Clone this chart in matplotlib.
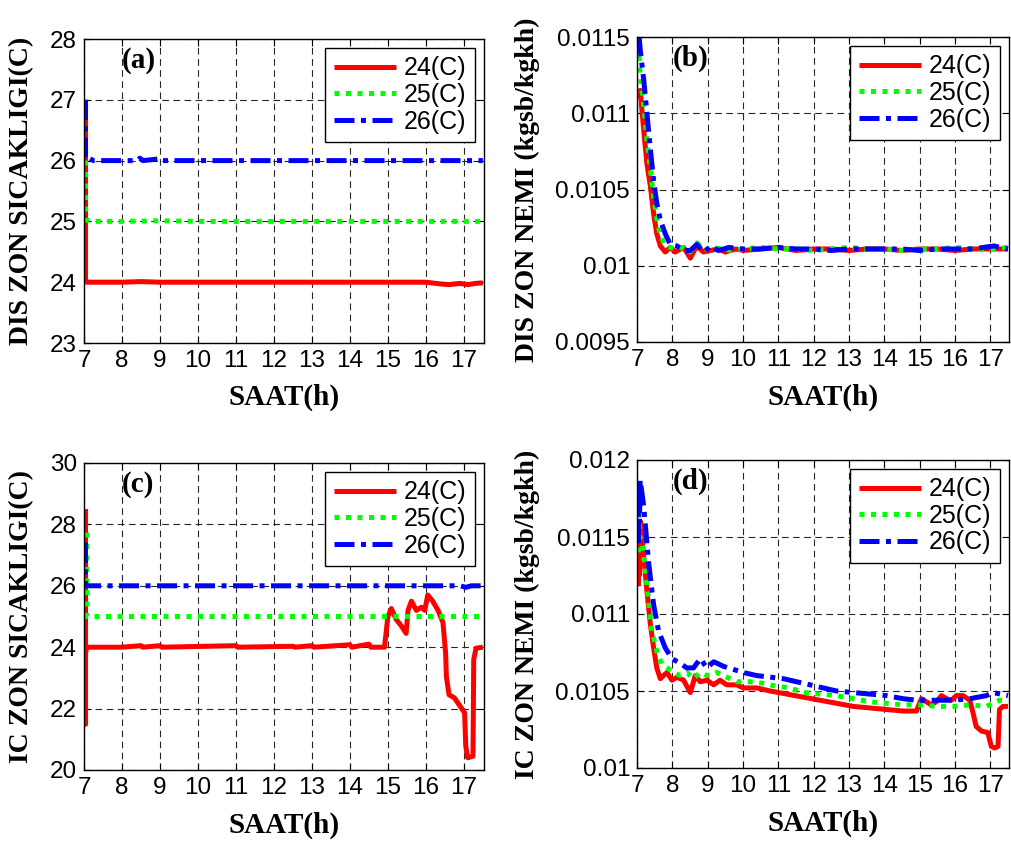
import matplotlib
matplotlib.use("Agg")
import matplotlib.pyplot as plt

# ---------------- data ----------------
labels = ["24(C)", "25(C)", "26(C)"]
panel_tags = ["(a)", "(b)", "(c)", "(d)"]
xticks = [7, 8, 9, 10, 11, 12, 13, 14, 15, 16, 17]
xlabel = "SAAT(h)"
ylabels = ["DIS ZON SICAKLIGI(C)", "DIS ZON NEMI (kgsb/kgkh)",
           "IC ZON SICAKLIGI(C)", "IC ZON NEMI (kgsb/kgkh)"]

# (a) outdoor-zone temperature
ta_24 = [7.04, 7.04, 7.07, 8.0, 8.5, 9.0, 10.0, 11.0, 12.0, 13.0, 14.0, 15.0, 16.0, 16.4, 16.6, 16.9, 17.1, 17.3, 17.5]
va_24 = [27.0, 24.05, 24.0, 24.0, 24.01, 24.0, 24.0, 24.0, 24.0, 24.0, 24.0, 24.0, 24.0, 23.97, 23.96, 23.98, 23.96, 23.98, 23.99]
ta_25 = [7.04, 7.04, 7.08, 7.2, 8.0, 9.0, 10.0, 11.0, 12.0, 13.0, 14.0, 15.0, 16.0, 17.0, 17.5]
va_25 = [26.0, 25.05, 25.02, 25.0, 25.0, 25.01, 25.0, 25.0, 25.0, 25.0, 25.0, 25.0, 25.0, 25.0, 25.0]
ta_26 = [7.04, 7.04, 7.1, 7.16, 7.25, 8.4, 8.47, 8.55, 9.0, 9.05, 10.0, 11.0, 12.0, 13.0, 14.0, 15.0, 16.0, 17.0, 17.5]
va_26 = [27.0, 26.05, 26.0, 26.03, 26.0, 26.0, 26.04, 26.0, 26.03, 26.0, 26.0, 26.0, 26.0, 26.0, 26.0, 26.0, 26.0, 26.0, 26.0]

# (b) outdoor-zone humidity
tb_24 = [7.04, 7.06, 7.09, 7.19, 7.28, 7.38, 7.47, 7.56, 7.66, 7.80, 7.94, 8.08, 8.32, 8.51, 8.69, 8.88, 9.07,
         9.3, 9.5, 9.8, 10.0, 10.5, 11.0, 11.5, 12.0, 12.5, 13.0, 13.5, 14.0, 14.5, 15.0, 15.5, 16.0, 16.5, 17.0, 17.5]
vb_24 = [0.01110, 0.01111, 0.01115, 0.01089, 0.01067, 0.01052, 0.01034, 0.01021, 0.01013, 0.01009, 0.01012, 0.01009,
         0.01012, 0.01005, 0.01013, 0.01009, 0.01010,
         0.01011, 0.01009, 0.01011, 0.01010, 0.01011, 0.01012, 0.01010, 0.01011, 0.01011, 0.01010, 0.01011,
         0.01011, 0.01010, 0.01011, 0.01011, 0.01010, 0.01011, 0.01011, 0.01011]
tb_25 = [7.04, 7.09, 7.19, 7.28, 7.38, 7.47, 7.56, 7.66, 7.80, 7.94, 8.1, 8.3, 8.5, 8.7, 8.9, 9.1,
         9.4, 9.7, 10.0, 10.5, 11.0, 11.5, 12.0, 12.5, 13.0, 13.5, 14.0, 14.5, 15.0, 15.5, 16.0, 16.5, 17.0, 17.5]
vb_25 = [0.01145, 0.01125, 0.01105, 0.01083, 0.01063, 0.01045, 0.01031, 0.01020, 0.01013, 0.01012, 0.01011,
         0.01012, 0.01009, 0.01015, 0.01010, 0.01012,
         0.01011, 0.01010, 0.01011, 0.01012, 0.01011, 0.01011, 0.01010, 0.01011, 0.01012, 0.01011, 0.01011,
         0.01010, 0.01011, 0.01011, 0.01012, 0.01011, 0.01011, 0.01012]
tb_26 = [7.04, 7.06, 7.09, 7.19, 7.28, 7.38, 7.47, 7.56, 7.66, 7.80, 7.94, 8.13, 8.32, 8.51, 8.69, 8.9, 9.1,
         9.3, 9.6, 10.0, 10.5, 11.0, 11.5, 12.0, 12.5, 13.0, 13.5, 14.0, 14.5, 15.0, 15.5, 16.0, 16.5, 17.1, 17.5]
vb_26 = [0.01150, 0.01150, 0.01142, 0.01122, 0.01100, 0.01076, 0.01056, 0.01041, 0.01030, 0.01021, 0.01014,
         0.01013, 0.01010, 0.01010, 0.01014, 0.01009, 0.01013,
         0.01010, 0.01012, 0.01011, 0.01011, 0.01012, 0.01011, 0.01011, 0.01010, 0.01011, 0.01011, 0.01011,
         0.01011, 0.01010, 0.01011, 0.01011, 0.01011, 0.01013, 0.01011]

# (c) indoor-zone temperature
tc_24 = [7.04, 7.04, 7.04, 7.07, 8.0, 8.5, 8.55, 9.0, 9.05, 11.0, 11.05, 12.5, 12.55, 13.0, 13.05, 14.0, 14.05,
         14.5, 14.55, 14.91, 15.0, 15.09, 15.22, 15.35, 15.48, 15.53, 15.62, 15.75, 15.88, 15.97, 16.05, 16.18,
         16.32, 16.45, 16.52, 16.54, 16.61, 16.75, 16.89, 17.02, 17.05, 17.1, 17.24, 17.26, 17.32, 17.5]
vc_24 = [28.5, 21.5, 23.8, 24.0, 24.0, 24.05, 24.0, 24.05, 24.0, 24.05, 24.0, 24.03, 24.0, 24.05, 24.0, 24.08, 24.0,
         24.1, 24.0, 24.0, 25.0, 25.26, 24.9, 24.7, 24.45, 25.2, 25.5, 25.2, 25.3, 25.2, 25.7, 25.5,
         25.2, 24.8, 23.8, 23.05, 22.45, 22.35, 22.1, 21.86, 20.78, 20.4, 20.45, 23.6, 23.97, 24.0]
tc_25 = [7.04, 7.04, 7.08, 8.0, 9.0, 10.0, 11.0, 12.0, 13.0, 14.0, 15.0, 16.0, 17.0, 17.5]
vc_25 = [27.75, 25.0, 25.0, 25.0, 25.0, 25.0, 25.0, 25.0, 25.0, 25.0, 25.0, 25.0, 25.0, 25.0]
tc_26 = [7.04, 7.04, 7.08, 8.0, 9.0, 10.0, 11.0, 12.0, 13.0, 14.0, 15.0, 16.0, 16.9, 17.05, 17.2, 17.5]
vc_26 = [27.4, 26.02, 26.0, 26.0, 26.0, 26.0, 26.0, 26.0, 26.0, 26.0, 26.0, 26.0, 26.0, 25.95, 26.0, 26.0]

# (d) indoor-zone humidity
td_24 = [7.04, 7.05, 7.06, 7.08, 7.1, 7.14, 7.28, 7.38, 7.47, 7.56, 7.66, 7.75, 7.85, 7.99, 8.13, 8.32, 8.51, 8.65,
         8.79, 8.98, 9.17, 9.35, 9.54, 9.82, 10.01, 10.39, 10.77, 11.24, 11.71, 12.18, 12.65, 13.12, 13.59,
         14.06, 14.53, 14.91, 15.05, 15.19, 15.33, 15.47, 15.62, 15.76, 15.90, 16.04, 16.23, 16.42, 16.51,
         16.60, 16.75, 16.93, 17.03, 17.12, 17.22, 17.26, 17.36, 17.5]
vd_24 = [0.01118, 0.01142, 0.01125, 0.01140, 0.01160, 0.01150, 0.01115, 0.01093, 0.01078, 0.01065, 0.01058,
         0.01060, 0.01062, 0.01057, 0.01059, 0.01057, 0.01049, 0.01060,
         0.01056, 0.01057, 0.01054, 0.01057, 0.01054, 0.01054, 0.01052, 0.01052, 0.01050, 0.01048, 0.01046,
         0.01044, 0.01042, 0.01040, 0.01039,
         0.01038, 0.01037, 0.01037, 0.01045, 0.01043, 0.01041, 0.01043, 0.01047, 0.01045, 0.01044, 0.01047,
         0.01047, 0.01044, 0.01036,
         0.01027, 0.01024, 0.01023, 0.01014, 0.01013, 0.01014, 0.01038, 0.01040, 0.01040]
td_25 = [7.04, 7.05, 7.07, 7.14, 7.28, 7.42, 7.56, 7.71, 7.85, 8.04, 8.22, 8.41, 8.60, 8.79, 8.98, 9.26, 9.54,
         9.82, 10.20, 10.58, 10.95, 11.33, 11.71, 12.18, 12.65, 13.12, 13.59, 14.06, 14.53, 15.0, 15.47,
         15.95, 16.42, 16.89, 17.26, 17.5]
vd_25 = [0.01140, 0.01168, 0.01150, 0.01148, 0.01119, 0.01089, 0.01076, 0.01067, 0.01065, 0.01062, 0.01060,
         0.01062, 0.01058, 0.01062, 0.01060, 0.01062, 0.01059,
         0.01056, 0.01056, 0.01055, 0.01053, 0.01052, 0.01049, 0.01048, 0.01047, 0.01045, 0.01043, 0.01042,
         0.01041, 0.01041, 0.01040,
         0.01040, 0.01041, 0.01040, 0.01044, 0.01044]
td_26 = [7.04, 7.05, 7.07, 7.09, 7.19, 7.33, 7.47, 7.61, 7.80, 7.99, 8.22, 8.41, 8.60, 8.79, 8.98, 9.17, 9.45,
         9.73, 10.01, 10.39, 10.77, 11.14, 11.52, 11.90, 12.27, 12.65, 13.12, 13.59, 14.06, 14.53, 14.91,
         15.47, 15.95, 16.42, 16.89, 17.08, 17.5]
vd_26 = [0.01146, 0.01187, 0.01160, 0.01187, 0.01170, 0.01133, 0.01106, 0.01089, 0.01078, 0.01071, 0.01068,
         0.01065, 0.01065, 0.01071, 0.01065, 0.01069, 0.01066,
         0.01064, 0.01062, 0.01060, 0.01059, 0.01058, 0.01056, 0.01054, 0.01052, 0.01050, 0.01049, 0.01048,
         0.01047, 0.01045, 0.01044,
         0.01044, 0.01044, 0.01045, 0.01047, 0.01049, 0.01047]

series = [
    [(ta_24, va_24), (ta_25, va_25), (ta_26, va_26)],
    [(tb_24, vb_24), (tb_25, vb_25), (tb_26, vb_26)],
    [(tc_24, vc_24), (tc_25, vc_25), (tc_26, vc_26)],
    [(td_24, vd_24), (td_25, vd_25), (td_26, vd_26)],
]
yticks = [
    [23, 24, 25, 26, 27, 28],
    [0.0095, 0.01, 0.0105, 0.011, 0.0115],
    [20, 22, 24, 26, 28, 30],
    [0.01, 0.0105, 0.011, 0.0115, 0.012],
]
yticklabels = [
    ["23", "24", "25", "26", "27", "28"],
    ["0.0095", "0.01", "0.0105", "0.011", "0.0115"],
    ["20", "22", "24", "26", "28", "30"],
    ["0.01", "0.0105", "0.011", "0.0115", "0.012"],
]

# ---------------- style ----------------
colors = ["#ff0000", "#00ff00", "#0000ff"]
styles = ["-", (0, (1.0, 1.3)), (0, (4.0, 1.3, 1.0, 1.3))]
sans = ["Liberation Sans", "DejaVu Sans"]
serif = ["Liberation Serif", "DejaVu Serif"]

fig = plt.figure(figsize=(10.11, 8.43), dpi=100)
W, H = 1011, 843
boxes = [  # left, top, right, bottom in pixels
    (84, 39, 484, 343),
    (637, 37, 1009, 342),
    (84, 463, 484, 770),
    (637, 460, 1009, 768),
]
ylabel_x = [-0.125, -0.262, -0.125, -0.262]

for i, (l, t, r, b) in enumerate(boxes):
    ax = fig.add_axes([l / W, 1 - b / H, (r - l) / W, (b - t) / H])
    for j, (tt, vv) in enumerate(series[i]):
        ax.plot(tt, vv, color=colors[j], linestyle=styles[j], linewidth=3.6,
                dash_capstyle="butt", solid_capstyle="butt", label=labels[j])
    ax.set_xlim(7, 17.53)
    ax.set_ylim(yticks[i][0], yticks[i][-1])
    ax.set_xticks(xticks)
    ax.set_xticklabels([str(x) for x in xticks], family=sans, fontsize=17.5)
    ax.set_yticks(yticks[i])
    ax.set_yticklabels(yticklabels[i], family=sans, fontsize=17.5)
    ax.tick_params(direction="in", length=5, width=0.8, top=True, right=True, pad=5)
    ax.tick_params(axis="x", pad=5)
    ax.grid(True, color="0.15", linestyle=(0, (6, 4)), linewidth=0.8)
    for sp in ax.spines.values():
        sp.set_linewidth(1.0)
        sp.set_color("black")
    ax.set_xlabel(xlabel, family=serif, fontweight="bold", fontsize=21)
    ax.xaxis.set_label_coords(0.5, -0.135)
    ax.set_ylabel(ylabels[i], family=serif, fontweight="bold", fontsize=20)
    ax.yaxis.set_label_coords(ylabel_x[i], 0.5)
    ax.text(0.095, 0.93, panel_tags[i], transform=ax.transAxes, family=serif,
            fontweight="bold", fontsize=21, ha="left", va="center")
    leg = ax.legend(loc="upper right", prop={"family": sans, "size": 18},
                    fancybox=False, framealpha=1, edgecolor="black",
                    handlelength=2.5, handletextpad=0.3, borderpad=0.35,
                    labelspacing=0.1, borderaxespad=0.35)
    leg.get_frame().set_linewidth(1.0)

fig.savefig("out.png", dpi=100)
